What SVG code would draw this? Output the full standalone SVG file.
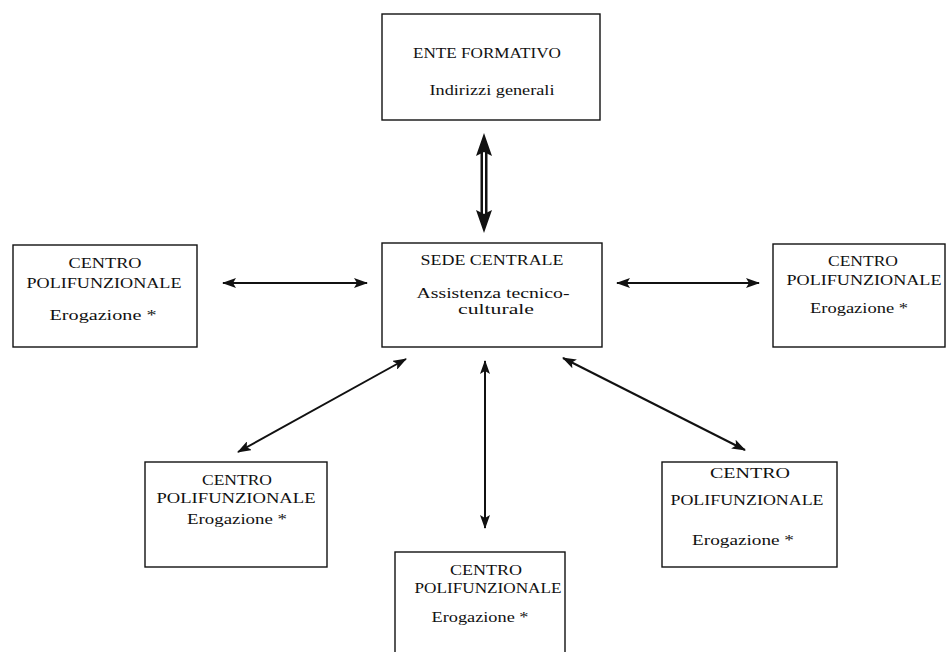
<svg xmlns="http://www.w3.org/2000/svg" width="950" height="652" viewBox="0 0 950 652">
  <style>
    .box { fill: #fff; stroke: #111; stroke-width: 1.4; }
    .t { font-family: "Liberation Serif", "Times New Roman", serif; font-size: 15px; fill: #111; text-anchor: middle; }
    .link { stroke: #111; stroke-width: 2; fill: none; }
  </style>
  <defs>
    <marker id="head" viewBox="0 0 14 10" refX="13" refY="5" markerUnits="userSpaceOnUse" markerWidth="14" markerHeight="10" orient="auto-start-reverse">
      <path d="M0,0 L14,5 L0,10 L3,5 Z" fill="#111"/>
    </marker>
  </defs>

  <rect width="950" height="652" fill="#fff"/>

  <!-- connectors -->
  <g id="connectors">
    <!-- double-lined link between ENTE FORMATIVO and SEDE CENTRALE -->
    <g fill="#111">
      <rect x="480.5" y="152" width="7" height="62"/>
      <rect x="483" y="152" width="2" height="62" fill="#fff"/>
      <path d="M484,133 L492,156 L484,152 L476,156 Z"/>
      <path d="M484,233 L492,210 L484,214 L476,210 Z"/>
    </g>
    <line class="link" x1="223" y1="283" x2="367" y2="283" marker-start="url(#head)" marker-end="url(#head)"/>
    <line class="link" x1="617" y1="283" x2="759" y2="283" marker-start="url(#head)" marker-end="url(#head)"/>
    <line class="link" x1="406" y1="359" x2="238" y2="452" marker-start="url(#head)" marker-end="url(#head)"/>
    <line class="link" x1="485" y1="361" x2="485" y2="528" marker-start="url(#head)" marker-end="url(#head)"/>
    <line class="link" x1="563" y1="358" x2="745" y2="450" marker-start="url(#head)" marker-end="url(#head)"/>
  </g>

  <g id="ente-formativo">
    <rect class="box" x="382" y="14" width="218" height="106"/>
    <text class="t" x="487" y="58" textLength="148" lengthAdjust="spacingAndGlyphs">ENTE FORMATIVO</text>
    <text class="t" x="492" y="95" textLength="125" lengthAdjust="spacingAndGlyphs">Indirizzi generali</text>
  </g>

  <g id="sede-centrale">
    <rect class="box" x="382" y="243" width="220" height="104"/>
    <text class="t" x="492" y="265" textLength="143" lengthAdjust="spacingAndGlyphs">SEDE CENTRALE</text>
    <text class="t" x="493" y="298" textLength="153" lengthAdjust="spacingAndGlyphs">Assistenza tecnico-</text>
    <text class="t" x="496" y="314" textLength="76" lengthAdjust="spacingAndGlyphs">culturale</text>
  </g>

  <g id="centro-ovest">
    <rect class="box" x="13" y="245" width="184" height="102"/>
    <text class="t" x="105" y="268" textLength="73" lengthAdjust="spacingAndGlyphs">CENTRO</text>
    <text class="t" x="104" y="288" textLength="155" lengthAdjust="spacingAndGlyphs">POLIFUNZIONALE</text>
    <text class="t" x="103" y="320" textLength="107" lengthAdjust="spacingAndGlyphs">Erogazione *</text>
  </g>

  <g id="centro-est">
    <rect class="box" x="773" y="244" width="172" height="103"/>
    <text class="t" x="863" y="266" textLength="70" lengthAdjust="spacingAndGlyphs">CENTRO</text>
    <text class="t" x="864" y="285" textLength="155" lengthAdjust="spacingAndGlyphs">POLIFUNZIONALE</text>
    <text class="t" x="859" y="313" textLength="98" lengthAdjust="spacingAndGlyphs">Erogazione *</text>
  </g>

  <g id="centro-sudovest">
    <rect class="box" x="145" y="462" width="182" height="105"/>
    <text class="t" x="237" y="485" textLength="70" lengthAdjust="spacingAndGlyphs">CENTRO</text>
    <text class="t" x="236" y="503" textLength="159" lengthAdjust="spacingAndGlyphs">POLIFUNZIONALE</text>
    <text class="t" x="237" y="524" textLength="100" lengthAdjust="spacingAndGlyphs">Erogazione *</text>
  </g>

  <g id="centro-sud">
    <rect class="box" x="395" y="552" width="170" height="110"/>
    <text class="t" x="486" y="575" textLength="72" lengthAdjust="spacingAndGlyphs">CENTRO</text>
    <text class="t" x="488" y="593" textLength="147" lengthAdjust="spacingAndGlyphs">POLIFUNZIONALE</text>
    <text class="t" x="480" y="622" textLength="97" lengthAdjust="spacingAndGlyphs">Erogazione *</text>
  </g>

  <g id="centro-sudest">
    <rect class="box" x="662" y="462" width="175" height="105"/>
    <text class="t" x="750" y="478" textLength="80" lengthAdjust="spacingAndGlyphs">CENTRO</text>
    <text class="t" x="747" y="505" textLength="153" lengthAdjust="spacingAndGlyphs">POLIFUNZIONALE</text>
    <text class="t" x="743" y="545" textLength="102" lengthAdjust="spacingAndGlyphs">Erogazione *</text>
  </g>
</svg>
